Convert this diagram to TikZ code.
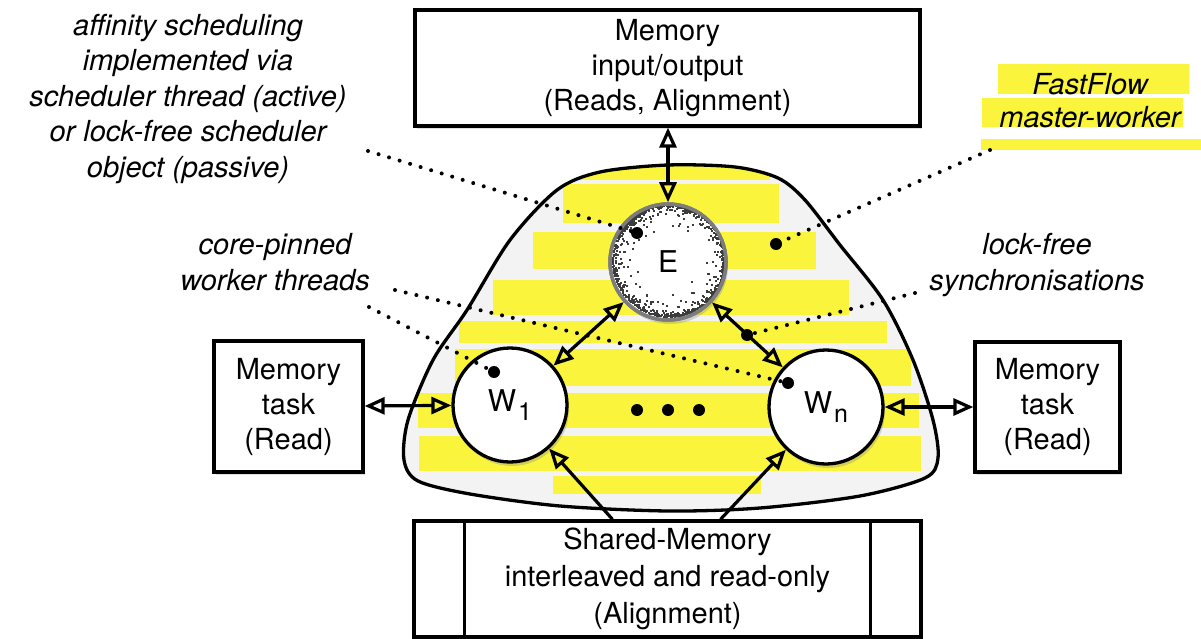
\documentclass[tikz,border=0pt]{standalone}
\usepackage{fontspec}
\setmainfont{TeX Gyre Heros}
\usepackage{tikz}
\usetikzlibrary{arrows.meta,shadows}
\definecolor{hilite}{HTML}{FAF53C}
\definecolor{farmgray}{HTML}{F3F3F3}
\definecolor{ringgray}{HTML}{7C7C7C}
\definecolor{speck}{HTML}{3C3C3C}
\def\farmoutline{plot[smooth cycle,tension=0.5] coordinates {
  (668,165) (735,167) (778,178) (805,200) (840,245) (883,300) (913,360)
  (933,420) (938,458) (925,478) (860,496) (760,508) (668,511) (560,506)
  (470,494) (418,481) (404,460) (408,420) (433,360) (467,310) (510,240)
  (557,190) (600,172)}}

\begin{document}
\begin{tikzpicture}[
  x=1pt,y=-1pt,
  >={Triangle[open,length=20pt,width=17pt]},
  membox/.style={draw,line width=3.3pt,fill=white,align=center,inner sep=0pt,
    font=\fontsize{29}{35}\selectfont,
    drop shadow={opacity=0.25,shadow xshift=2pt,shadow yshift=-3pt}},
  worker/.style={circle,draw,line width=3.3pt,fill=white,minimum size=114pt,inner sep=0pt,
    font=\fontsize{30}{30}\selectfont,
    drop shadow={opacity=0.3,shadow xshift=2pt,shadow yshift=-4pt}},
  hub/.style={worker,draw=ringgray,line width=3.5pt,minimum size=116pt},
  link/.style={line width=3.2pt,<->},
  feed/.style={line width=3.2pt,->},
  note/.style={align=center,font=\itshape\fontsize{29}{35.5}\selectfont},
  pointer/.style={line width=4pt,line cap=round,dash pattern=on 0pt off 11pt},
  endmark/.style={circle,fill=black,inner sep=0pt,minimum size=12pt},
  stripe/.style={fill=hilite}
]
\useasboundingbox (0,0) rectangle (1201,639);

\path[fill=farmgray] \farmoutline;
\begin{scope}
  \clip \farmoutline;
  \fill[stripe] (570,166) rectangle (770,180);
  \fill[stripe] (563,184) rectangle (779,223);
  \fill[stripe] (533,232) rectangle (816,269);
  \fill[stripe] (493,280) rectangle (849,315);
  \fill[stripe] (459,321) rectangle (887,343);
  \fill[stripe] (455,349) rectangle (911,386);
  \fill[stripe] (418,393) rectangle (919,428);
  \fill[stripe] (419,436) rectangle (921,471);
  \fill[stripe] (553,476) rectangle (761,494);
\end{scope}
\draw[line width=3.3pt] \farmoutline;

\fill[stripe] (998,64) rectangle (1189,94);
\fill[stripe] (982,98) rectangle (1183,127);
\fill[stripe] (981,139) rectangle (1201,150);

\node[membox,minimum width=505pt,minimum height=116pt] (memio) at (667.5,68) {Memory\\input/output\\(Reads, Alignment)};
\node[membox,minimum width=149pt,minimum height=131pt] (taskl) at (288.5,406.5) {Memory\\task\\(Read)};
\node[membox,minimum width=145pt,minimum height=130pt] (taskr) at (1047.5,407) {Memory\\task\\(Read)};
\node[membox,minimum width=507pt,minimum height=116pt,font=\fontsize{29}{37}\selectfont] (shmem) at (667.5,579) {Shared-Memory\\interleaved and read-only\\(Alignment)};
\draw[line width=3.3pt] ([xshift=52pt]shmem.north west) -- ([xshift=52pt]shmem.south west);
\draw[line width=3.3pt] ([xshift=-52pt]shmem.north east) -- ([xshift=-52pt]shmem.south east);

\node[hub] (emitter) at (668,262) {E};
\begin{scope}[shift={(emitter.center)}]
  \pgfmathsetseed{42}
  \foreach \k in {1,...,850}{
    \pgfmathsetmacro\a{360*rnd}
    \pgfmathsetmacro\r{56*(1-0.7*rnd*rnd*rnd*rnd)}
    \fill[speck] (\a:\r pt) rectangle ++(2pt,2pt);
  }
\end{scope}
\draw[ringgray,line width=3.5pt] (emitter.center) circle[radius=58pt];

\node[worker] (w1) at (510,405) {W\kern2pt\raisebox{-9pt}{\fontsize{25}{25}\selectfont 1}};
\node[worker] (wn) at (826,407) {W\kern2pt\raisebox{-9pt}{\fontsize{25}{25}\selectfont n}};
\fill (637,410) circle[radius=6pt] (668,410) circle[radius=6pt] (699,410) circle[radius=6pt];

\draw[link] (emitter) -- (emitter |- memio.south);
\draw[link] (emitter) -- (w1);
\draw[link] (emitter) -- (wn);
\draw[link] (taskl) -- (w1);
\draw[link] (wn) -- (taskr);
\draw[feed] ([xshift=-55pt]shmem.north) -- (w1);
\draw[feed] ([xshift=53pt]shmem.north) -- (wn);

\node[note] (affinity) at (188,99) {affinity scheduling\\implemented via\\scheduler thread (active)\\or lock-free scheduler\\object (passive)};
\node[note] (pinned) at (275,262) {core-pinned\\worker threads};
\node[note] (lockfree) at (1037,265) {lock-free\\synchronisations};
\node[note,font=\itshape\fontsize{29}{33}\selectfont] (fastflow) at (1090,101) {FastFlow\\master-worker};

\node[endmark] (affdot) at (637,233) {};
\node[endmark] (ffdot) at (776,244) {};
\node[endmark] (w1dot) at (494,372) {};
\node[endmark] (wndot) at (788,383) {};
\node[endmark] (syncdot) at (747,335) {};
\coordinate (affend) at (368,151);
\coordinate (ffend) at (990,150);
\coordinate (w1end) at (369,307);
\coordinate (wnend) at (395,290);
\coordinate (syncend) at (915,293);
\draw[pointer] (affend) -- (affdot);
\draw[pointer] (ffend) -- (ffdot);
\draw[pointer] (w1end) -- (w1dot);
\draw[pointer] (wnend) -- (wndot);
\draw[pointer] (syncend) -- (syncdot);
\end{tikzpicture}
\end{document}
